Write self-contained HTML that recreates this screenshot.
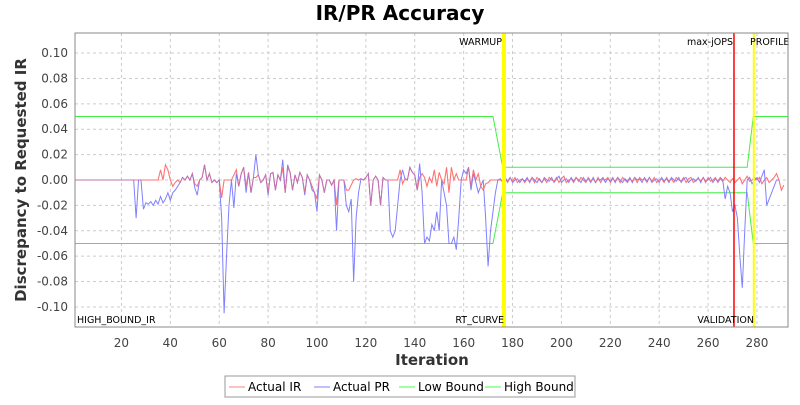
<!DOCTYPE html>
<html><head><meta charset="utf-8"><style>
body{margin:0;background:#fff;font-family:"Liberation Sans","DejaVu Sans",sans-serif}
svg text{font-family:"DejaVu Sans","Liberation Sans",sans-serif}
</style></head><body>
<svg id="c" width="800" height="400" xmlns="http://www.w3.org/2000/svg">
<text x="400" y="20" text-anchor="middle" font-size="20" font-weight="bold">IR/PR Accuracy</text>
<text transform="translate(26,180) rotate(-90)" text-anchor="middle" font-size="15" font-weight="bold" fill="#333">Discrepancy to Requested IR</text>
<text x="432" y="365" text-anchor="middle" font-size="15" font-weight="bold" fill="#333">Iteration</text>
<g id="grid"></g>
<g id="ticks"></g>
<g id="marks"></g>
<g id="markers"></g>
<rect x="75" y="33" width="713" height="294" fill="none" stroke="#888"/>
<g>
<rect x="225" y="376" width="350" height="21" fill="#fff" stroke="#999"/>
<g><line x1="229" y1="387" x2="245" y2="387" stroke="#ff8080"/><text x="248" y="391" font-size="12">Actual IR</text></g>
<g><line x1="314" y1="387" x2="330" y2="387" stroke="#8080ff"/><text x="333" y="391" font-size="12">Actual PR</text></g>
<g><line x1="399" y1="387" x2="415" y2="387" stroke="#4f4"/><text x="418" y="391" font-size="12">Low Bound</text></g>
<g><line x1="485" y1="387" x2="501" y2="387" stroke="#4f4"/><text x="504" y="391" font-size="12">High Bound</text></g>
</g>
</svg>
<script>
const xTicks=[20,40,60,80,100,120,140,160,180,200,220,240,260,280];
const yTicks=[-0.10,-0.08,-0.06,-0.04,-0.02,0.00,0.02,0.04,0.06,0.08,0.10];
const zig=[0.001,-0.002,0.002,-0.001,0.002,-0.002,0,0.001,-0.002,0.001,-0.001,0.002,-0.002,0.002,0,-0.002,0.001,-0.002,0.002,0,-0.001,0.002,-0.002,0.001,0.003,-0.002,0,0.001,-0.002,0.002,-0.001,0.002,0,-0.002,0.002,-0.001,0.001,-0.002,0.002,-0.002,0.001,0,0.002,-0.002,0.001,-0.001,0.002,-0.002,0.002,0,-0.002,0.001,-0.001,0.002,-0.002,0.002,0,0.001,-0.002,0.002,-0.001,0.002,-0.002,0,0.001,-0.002,0.002,-0.001,0.001,-0.002,0.002,0,-0.001,0.002,-0.002,0.001,0.002,-0.002,0,0.001,-0.001,0.002,-0.002,0.002,-0.001,0,0.002,-0.002,0.001,-0.001,0.002,0];
const irHead=[0,0,0,0,0,0,0,0,0,0,0,0,0,0,0,0,0,0,0,0,0,0,0,0,0,0,0,0,0,0,0,0,0,0,0,
0.008,0,0.012,0.008,0,-0.005,-0.002,0,-0.002,0.002,0,0.003,0,0.005,-0.003,-0.005,0,0.002,0.012,0,0.005,-0.002,0,-0.002,0,
-0.014,0,0,0,0,0.004,0.008,-0.005,0.005,0.01,-0.005,0.006,-0.01,0.002,0.002,0.004,-0.002,0,0.004,-0.01,0.005,0.006,-0.008,0.004,0,0.01,-0.01,0.01,0.006,-0.008,
0.004,-0.002,0.006,0.002,-0.01,0.004,0,-0.005,-0.01,-0.015,0.004,0,-0.01,0,0,-0.004,0,-0.02,0,0,0,-0.008,-0.008,-0.004,0,0.001,0,0.001,0,0.002,
0.005,-0.02,0,0.003,0,-0.02,0.002,0,0,0,0,0,0,0.008,-0.003,0.001,0,0.01,0.006,0.004,-0.008,0.002,0.005,0.002,-0.005,0.002,-0.002,0.008,-0.005,0.006,
0,-0.003,0.01,-0.01,0.01,0,0.005,0,0,0,0,0.01,-0.005,0.008,0,0.005,-0.005,-0.008,-0.003,-0.002,0,0,0,0,0,0];
const irTail=[-0.002,0.001,-0.002,0,0.002,-0.003,0,0.003,-0.001,0,0.002,0,0.002,-0.003,0,0.002,-0.002,0,0.002,0.005,0,-0.008,-0.004];
const prHead=[0,0,0,0,0,0,0,0,0,0,0,0,0,0,0,0,0,0,0,0,0,0,0,0,0,-0.03,0,0,-0.023,-0.018,-0.019,-0.017,-0.02,-0.016,-0.019,
-0.013,-0.018,-0.015,-0.01,-0.016,-0.01,-0.008,-0.005,-0.002,0.002,0,0.003,0,0.005,-0.006,-0.012,0,0.002,0.012,0,0.005,-0.002,0,-0.002,0,
-0.03,-0.105,-0.06,-0.02,0,-0.022,0.005,-0.005,0.005,0.01,-0.01,0.006,-0.01,0.002,0.02,0.004,-0.002,0,0.004,-0.012,0.005,0.006,-0.008,0.004,0,0.016,-0.01,0.012,0.006,-0.008,
0.004,-0.002,0.006,0.002,-0.012,0.004,0,-0.008,-0.01,-0.025,0.004,0,-0.01,0,0,-0.004,0,-0.04,0,0,0,-0.02,-0.025,-0.015,-0.08,-0.03,-0.01,0.001,0,0.002,
0.005,-0.02,0,0.003,0,-0.02,0.002,0,0,-0.04,-0.045,-0.04,-0.02,0,0.008,0.001,0,0.01,0.006,0.004,-0.008,0.013,-0.01,-0.05,-0.045,-0.048,-0.035,-0.04,-0.025,-0.04,
0,-0.01,-0.02,-0.05,-0.05,-0.045,-0.055,-0.03,0,0.008,0.005,0.01,-0.008,0.005,-0.002,-0.01,-0.005,0,-0.03,-0.068,-0.04,-0.025,-0.01,0];
const prTail=[-0.015,-0.005,-0.01,-0.025,-0.02,-0.03,-0.06,-0.085,-0.04,0,0.002,-0.003,0,0.002,-0.002,0.003,0.008,-0.02,-0.015,-0.01,-0.005,0,0];
const actualIR=irHead.concat(zig,irTail);
const actualPR=prHead.concat(zig,prTail);
const boundIter=[1,172,176,276,278.5,292.7];
const highBound=[0.05,0.05,0.01,0.01,0.05,0.05];
const lowBound=[-0.05,-0.05,-0.01,-0.01,-0.05,-0.05];
const markerIter=[176.5,270.6,278.7];
const markerColor=["#ffff00","#ff0000","#ffff00"];

const X0=75,X1=788,Y0=33,Y1=327,XMIN=1,XMAX=292.7,YMIN=-0.1158,YMAX=0.1158;
const sx=v=>X0+(v-XMIN)/(XMAX-XMIN)*(X1-X0);
const sy=v=>Y1-(v-YMIN)/(YMAX-YMIN)*(Y1-Y0);
const NS="http://www.w3.org/2000/svg";
function mk(tag,parent,attrs){const e=document.createElementNS(NS,tag);for(const k in attrs)e.setAttribute(k,attrs[k]);parent.appendChild(e);return e;}
const grid=document.getElementById('grid'),ticks=document.getElementById('ticks'),marks=document.getElementById('marks'),markers=document.getElementById('markers');
xTicks.forEach(t=>{const x=sx(t);
 const l=mk('line',grid,{x1:x,x2:x,y1:Y0,y2:Y1,stroke:'#ccc','stroke-dasharray':'3,3'});
 
 
 const tx=mk('text',ticks,{x:x,y:Y1+20,'text-anchor':'middle','font-size':12,fill:'#444'});tx.textContent=t;
 
 
});
yTicks.forEach(t=>{const y=sy(t);
 const l=mk('line',grid,{x1:X0,x2:X1,y1:y,y2:y,stroke:'#ccc','stroke-dasharray':'3,3'});
 
 
 const tx=mk('text',ticks,{x:X0-7,y:y+4,'text-anchor':'end','font-size':12,fill:'#444'});tx.textContent=t.toFixed(2);
 
 
});
function line(xs,ys,color,name){
 const p=mk('polyline',marks,{points:xs.map((x,i)=>sx(x)+','+sy(ys[i])).join(' '),fill:'none',stroke:color,'stroke-width':1});
 
 
}
line(boundIter,highBound,'#44ee44','high-bound-line');
line(boundIter,lowBound,'#44ee44','low-bound-line');
line(actualIR.map((v,i)=>i+1),actualIR,'#ff8080','actual-ir-line');
line(actualPR.map((v,i)=>i+1),actualPR,'#8080ff','actual-pr-line');
line(actualIR.map((v,i)=>i+1),actualIR,'rgba(255,100,100,0.5)','actual-ir-overlay');
markerIter.forEach((m,i)=>{const x=sx(m);
 const l=mk('line',markers,{x1:x,x2:x,y1:Y0,y2:Y1,stroke:markerColor[i],'stroke-width':i==0?4:(i==2?2:1.5)});
 
 
});
const labels=[["WARMUP",502,45,"end"],["RT_CURVE",504,323,"end"],["HIGH_BOUND_IR",77,323,"start"],["max-jOPS",733,45,"end"],["VALIDATION",754,323,"end"],["PROFILE",750,45,"start"]];
labels.forEach(a=>{const t=mk('text',markers,{x:a[1],y:a[2],'text-anchor':a[3],'font-size':9.5,fill:'#000'});t.textContent=a[0];
 
 
});
</script>
</body></html>
